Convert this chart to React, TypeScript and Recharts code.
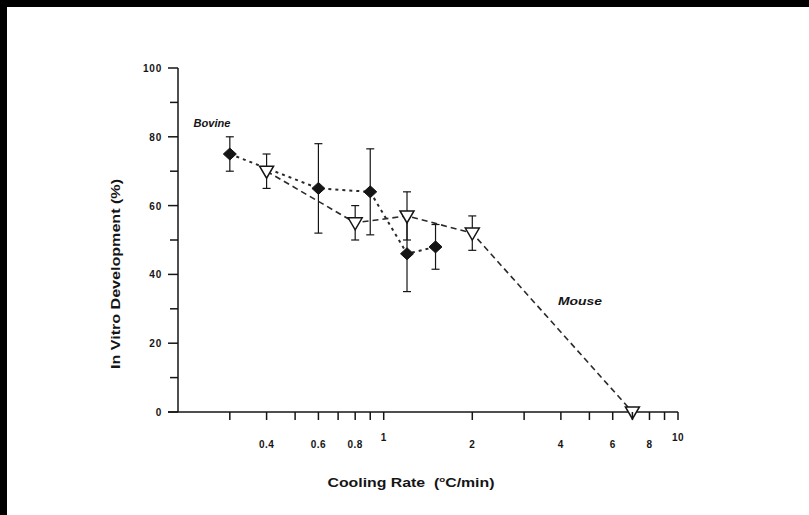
import React from "react";
import { ComposedChart, Line, XAxis, YAxis, ErrorBar, ReferenceLine } from "recharts";

const FONT = "'Liberation Sans', Arial, Helvetica, sans-serif";
const INK = "#151515";

// Bovine: filled diamonds, dotted line
const bovineRate = [0.3, 0.6, 0.9, 1.2, 1.5];
const bovineDev = [75, 65, 64, 46, 48];
const bovineErr = [5, 13, 12.5, 11, 6.5];

// Mouse: open triangles, dashed line
const mouseRate = [0.4, 0.8, 1.2, 2, 7];
const mouseDev = [70, 55, 57, 52, 0];
const mouseErr = [5, 5, 7, 5, null];

const xTicks = [0.3, 0.4, 0.5, 0.6, 0.7, 0.8, 0.9, 1, 2, 3, 4, 5, 6, 7, 8, 9, 10];
const xTickLabels = ["0.4", "0.6", "0.8", "1", "2", "4", "6", "8", "10"];
const xRaisedLabels = ["1", "10"];
const yTicks = [0, 10, 20, 30, 40, 50, 60, 70, 80, 90, 100];
const yTickLabels = ["0", "20", "40", "60", "80", "100"];

const bovine = bovineRate.map((x, i) => ({ x, y: bovineDev[i], err: bovineErr[i] }));
const mouse = mouseRate.map((x, i) => ({ x, y: mouseDev[i], err: mouseErr[i] }));

const XTick = (props: any) => {
  const { x, y, payload } = props;
  const label = String(payload.value);
  const shown = xTickLabels.includes(label);
  const raised = xRaisedLabels.includes(label);
  return (
    <g>
      <line x1={x} x2={x} y1={y} y2={y + 8} stroke={INK} strokeWidth={1.5} />
      {shown && (
        <text
          x={x}
          y={y + (raised ? 29 : 36)}
          textAnchor="middle"
          fontFamily={FONT}
          fontWeight="bold"
          fontSize={10}
          letterSpacing={0.5}
          fill={INK}
        >
          {label}
        </text>
      )}
    </g>
  );
};

const YTick = (props: any) => {
  const { x, y, payload } = props;
  const label = String(payload.value);
  const shown = yTickLabels.includes(label);
  return (
    <g>
      <line x1={x - (shown ? 10 : 8)} x2={x} y1={y} y2={y} stroke={INK} strokeWidth={1.5} />
      {shown && (
        <text
          x={x - 16}
          y={y + 4}
          textAnchor="end"
          fontFamily={FONT}
          fontWeight="bold"
          fontSize={10}
          letterSpacing={0.8}
          fill={INK}
        >
          {label}
        </text>
      )}
    </g>
  );
};

const Diamond = (props: any) => {
  const { cx, cy, index } = props;
  if (cx == null || cy == null) return <g key={`d-${index}`} />;
  return (
    <path
      key={`d-${index}`}
      d={`M${cx},${cy - 6} L${cx + 6.5},${cy} L${cx},${cy + 6} L${cx - 6.5},${cy} Z`}
      fill={INK}
      stroke={INK}
    />
  );
};

const Triangle = (props: any) => {
  const { cx, cy, index } = props;
  if (cx == null || cy == null) return <g key={`t-${index}`} />;
  return (
    <path
      key={`t-${index}`}
      d={`M${cx - 7},${cy - 5} L${cx + 7},${cy - 5} L${cx},${cy + 7} Z`}
      fill="#fff"
      stroke={INK}
      strokeWidth={1.5}
    />
  );
};

export default function App() {
  return (
    <div style={{ position: "absolute", left: 0, top: 0, width: 809, height: 515, background: "#fff" }}>
      <ComposedChart width={809} height={515} margin={{ top: 68, right: 131, bottom: 63, left: 0 }}>
        <XAxis
          dataKey="x"
          type="number"
          scale="log"
          domain={[0.2, 10]}
          ticks={xTicks}
          interval={0}
          tickSize={0}
          tickMargin={0}
          tick={XTick}
          axisLine={{ stroke: INK, strokeWidth: 1.5 }}
          tickLine={false}
          height={40}
        />
        <YAxis
          type="number"
          domain={[0, 100]}
          ticks={yTicks}
          interval={0}
          tickSize={0}
          tickMargin={0}
          tick={YTick}
          axisLine={{ stroke: INK, strokeWidth: 1.5 }}
          tickLine={false}
          width={178}
        />
        <ReferenceLine
          segment={[{ x: 0.185, y: 0 }, { x: 0.2, y: 0 }]}
          stroke={INK}
          strokeWidth={1.5}
          ifOverflow="visible"
        />
        <Line
          data={bovine}
          dataKey="y"
          type="linear"
          stroke="#2a2a2a"
          strokeWidth={2}
          strokeDasharray="3 4"
          dot={Diamond}
          activeDot={false}
          isAnimationActive={false}
        >
          <ErrorBar dataKey="err" direction="y" width={4} stroke={INK} strokeWidth={1.2} />
        </Line>
        <Line
          data={mouse}
          dataKey="y"
          type="linear"
          stroke="#2a2a2a"
          strokeWidth={1.6}
          strokeDasharray="6 4"
          dot={Triangle}
          activeDot={false}
          isAnimationActive={false}
        >
          <ErrorBar dataKey="err" direction="y" width={4} stroke={INK} strokeWidth={1.2} />
        </Line>
      </ComposedChart>
      <svg
        width={809}
        height={515}
        style={{ position: "absolute", left: 0, top: 0, pointerEvents: "none" }}
      >
        <rect x={0} y={0} width={809} height={7} fill="#000" />
        <rect x={0} y={0} width={7} height={515} fill="#000" />
        <text
          x={212}
          y={127}
          textAnchor="middle"
          fontFamily={FONT}
          fontSize={11}
          fontWeight="bold"
          fontStyle="italic"
          textLength={37}
          lengthAdjust="spacingAndGlyphs"
          fill={INK}
        >
          Bovine
        </text>
        <text
          x={580}
          y={305}
          textAnchor="middle"
          fontFamily={FONT}
          fontSize={11}
          fontWeight="bold"
          fontStyle="italic"
          textLength={44}
          lengthAdjust="spacingAndGlyphs"
          fill={INK}
        >
          Mouse
        </text>
        <text
          transform="translate(120,274) rotate(-90)"
          textAnchor="middle"
          fontFamily={FONT}
          fontSize={12}
          fontWeight="bold"
          textLength={190}
          lengthAdjust="spacingAndGlyphs"
          fill={INK}
        >
          In Vitro Development (%)
        </text>
        <text
          x={411}
          y={487}
          textAnchor="middle"
          fontFamily={FONT}
          fontSize={13}
          fontWeight="bold"
          textLength={167}
          lengthAdjust="spacingAndGlyphs"
          fill={INK}
        >
          {"Cooling Rate\u00a0\u00a0("}
          <tspan fontSize={8} dy={-5}>o</tspan>
          <tspan dy={5}>C/min)</tspan>
        </text>
      </svg>
    </div>
  );
}
